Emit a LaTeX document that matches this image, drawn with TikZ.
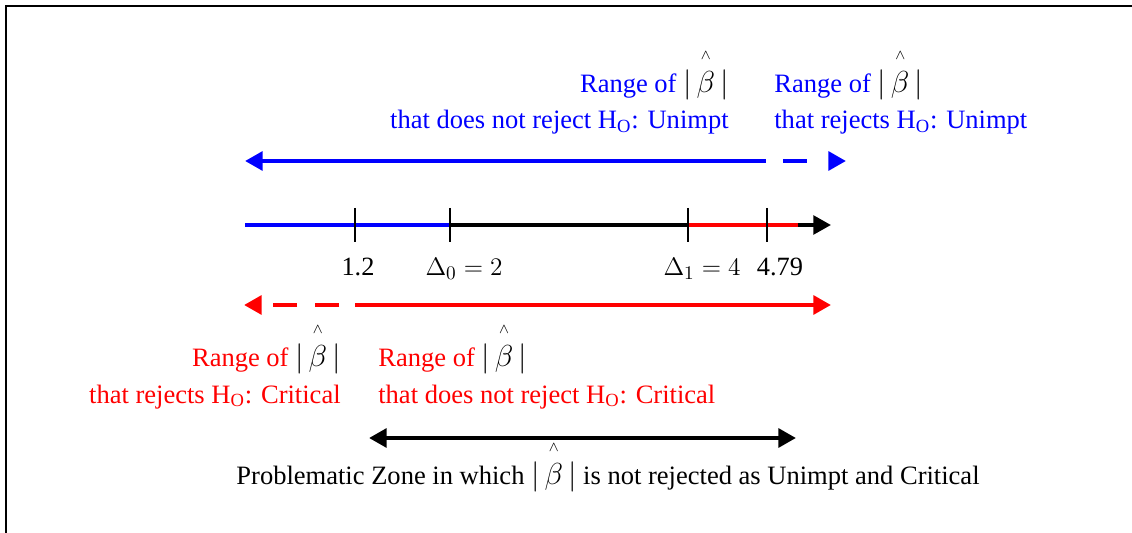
\documentclass[tikz,border=0pt]{standalone}
\usepackage{amsmath}
\usepackage{fontspec}
\setmainfont{Liberation Serif}
\usetikzlibrary{arrows.meta,calc}
\newcommand{\ArrHead}{Triangle[length=10pt,width=10.5pt]}
\newcommand{\bhat}{{\color{black}\fontsize{17}{17}\selectfont$|\,\overset{\raisebox{3pt}{$\scriptscriptstyle\wedge$}}{\beta}\,|$}}
\newcommand{\HO}{H\textsubscript{O}}
\tikzset{fat/.style={line width=2.8pt},tickmark/.style={line width=0.9pt},
  lbl/.style={inner sep=0pt},txt/.style={inner sep=0pt,font=\fontsize{15.1}{21}\selectfont}}

\begin{document}
\begin{tikzpicture}[x=0.02cm,y=-0.02cm,font=\fontsize{15}{21}\selectfont]
\useasboundingbox(0,0)rectangle(1132,533);
\draw[line width=1.1pt](6,533)--(6,6)--(1132,6);
% Unimpt range (blue)
\coordinate(bL)at(245,161);\coordinate(bM)at(766,161);\coordinate(bR)at(846,161);
\draw[fat,blue,{\ArrHead}-](bL)--(bM);
\draw[fat,blue,-{\ArrHead},dash pattern=on 0pt off 9.6pt on 13.6pt off 20pt](bM)--(bR);
\node[txt,blue,align=right,anchor=base east](uA)at(729,129){Range of \bhat\\that does not reject \HO: Unimpt};
\node[txt,blue,align=left,anchor=base west](uB)at(774,129){Range of \bhat\\that rejects \HO: Unimpt};
% number line
\coordinate(n0)at(245,225);\coordinate(t1)at(355,225);\coordinate(t2)at(450,225);
\coordinate(t3)at(688,225);\coordinate(t4)at(767,225);\coordinate(nR)at(798,225);\coordinate(nE)at(831,225);
\draw[line width=2.2pt,-{\ArrHead}](t2)--(nE);
\draw[fat,blue](n0)--(t2);\draw[fat,red](t3)--(nR);
\foreach \t in {t1,t2,t3,t4}\draw[tickmark]($(\t)+(0,-17)$)--($(\t)+(0,17)$);
\node[lbl,anchor=base](l1)at(358,276){1.2};
\node[lbl,anchor=base](l2)at(464,276){$\Delta_0=2$};
\node[lbl,anchor=base](l3)at(702,276){$\Delta_1=4$};
\node[lbl,anchor=base](l4)at(780,276){4.79};
% Critical range (red)
\coordinate(rL)at(244,305);\coordinate(rM)at(355,305);\coordinate(rR)at(831,305);
\draw[fat,red,-{\ArrHead}](rM)--(rR);
\draw[fat,red,-{\ArrHead},dash pattern=on 0pt off 9.1pt on 13.6pt off 10.2pt on 13.6pt off 20pt](rM)--(rL);
\node[txt,red,align=right,anchor=base east](cA)at(341,403){Range of \bhat\\that rejects \HO: Critical};
\node[txt,red,align=left,anchor=base west](cB)at(378,403){Range of \bhat\\that does not reject \HO: Critical};
% problematic zone
\coordinate(pL)at(369,438);\coordinate(pR)at(796,438);
\draw[fat,{\ArrHead}-{\ArrHead}](pL)--(pR);
\node[txt,anchor=base](pz)at(608,484){Problematic Zone in which \bhat\ is not rejected as Unimpt and Critical};
\end{tikzpicture}
\end{document}
